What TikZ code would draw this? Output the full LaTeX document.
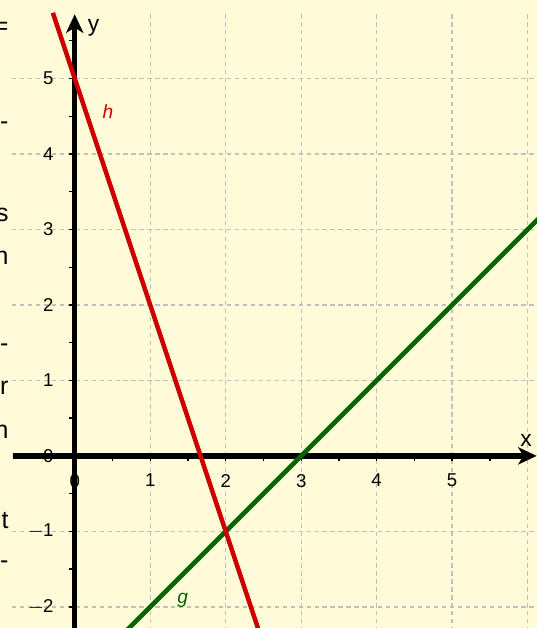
\documentclass[tikz,border=0pt]{standalone}
\usepackage{fontspec}
\setmainfont{Liberation Sans}
\usetikzlibrary{arrows.meta}
\definecolor{bgyellow}{RGB}{255,250,215}
\definecolor{gridgray}{RGB}{192,192,192}
\definecolor{hred}{RGB}{204,0,0}
\definecolor{ggreen}{RGB}{0,100,0}
\tikzstyle{gridline} = [gridgray, line width=0.5pt, dash pattern=on 1.6pt off 1.4pt]
\tikzstyle{axis} = [line width=2pt, -{Stealth[length=7pt, width=6.5pt, inset=2pt]}]
\tikzstyle{ticklabel} = [font=\fontsize{7}{8}\selectfont, inner sep=1pt]
\tikzstyle{graph} = [line width=1.7pt]
\tikzstyle{sidetext} = [font=\fontsize{9.4}{11}\selectfont, anchor=east, inner sep=0pt]

\begin{document}
\begin{tikzpicture}
    % Hintergrund
    \fill [bgyellow] (-0.99,-2.28) rectangle (6.12,6.04);
    \useasboundingbox (-0.99,-2.28) rectangle (6.12,6.04);
    % abgeschnittener Text links
    \foreach \txt/\yy in {=/5.67, -/4.37, s/3.19, n/2.62, -/1.43, r/0.90, n/0.32, t/-0.85, -/-1.44}
        \node [sidetext] at (-0.87,\yy) {\txt};
    % Gitter
    \foreach \xx in {1,...,6}
        \draw [gridline] (\xx,5.85) -- (\xx,-2.28);
    \foreach \yy in {-2,...,5}
        \draw [gridline] (-0.83,\yy) -- (6.12,\yy);
    % Achsenbeschriftung
    \foreach \xx in {1,...,5}
        \node [ticklabel, anchor=north] at (\xx,-0.2) {\xx};
    \foreach \yy in {-2,-1}
        \node [ticklabel, anchor=east] at (-0.24,\yy) {$-$\kern-0.5pt\the\numexpr-\yy\relax};
    \foreach \yy in {1,...,5}
        \node [ticklabel, anchor=east] at (-0.24,\yy) {\yy};
    \node [ticklabel, anchor=east] at (-0.24,0) {0};
    \node [ticklabel, anchor=north] at (0,-0.2) {0};
    % Achsen
    \draw [axis] (-0.82,0) -- (6.12,0);
    \draw [axis] (0,-2.28) -- (0,5.85);
    \foreach \xx in {0.5,1,...,5.5}
        \draw [line width=0.5pt] (\xx,0) -- (\xx,-0.07);
    \foreach \yy in {-2,-1.5,...,5.5}
        \draw [line width=0.5pt] (0,\yy) -- (-0.07,\yy);
    \node [font=\fontsize{8.6}{10}\selectfont] (xlab) at (5.98,0.21) {x};
    \node [font=\fontsize{8.6}{10}\selectfont] (ylab) at (0.25,5.67) {y};
    % Geraden g und h
    \draw [graph, ggreen] (0.69,-2.31) -- (6.15,3.15);
    \draw [graph, hred] (-0.29,5.87) -- (2.43,-2.29);
    \node [hred, font=\fontsize{7.2}{8}\selectfont\itshape] (hlab) at (0.44,4.56) {h};
    \node [ggreen, font=\fontsize{7.2}{8}\selectfont\itshape] (glab) at (1.43,-1.91) {g};
\end{tikzpicture}
\end{document}
